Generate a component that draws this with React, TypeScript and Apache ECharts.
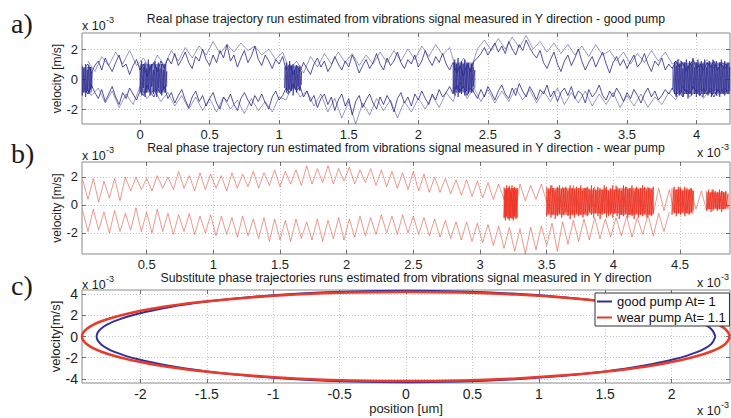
import React, { useEffect, useRef } from 'react';
import * as echarts from 'echarts';

const FONT = '"Liberation Sans", Arial, Helvetica, sans-serif';

// ---------------- panel a (good pump) ----------------
const aX = [
  -0.40, -0.35, -0.30, -0.25, -0.20, -0.15, -0.10, -0.05, 0.00, 0.05,
  0.10, 0.15, 0.20, 0.25, 0.30, 0.35, 0.40, 0.45, 0.50, 0.55,
  0.60, 0.65, 0.70, 0.75, 0.80, 0.85, 0.90, 0.95, 1.00, 1.05,
  1.10, 1.15, 1.20, 1.25, 1.30, 1.35, 1.40, 1.45, 1.50, 1.55,
  1.60, 1.65, 1.70, 1.75, 1.80, 1.85, 1.90, 1.95, 2.00, 2.05,
  2.10, 2.15, 2.20, 2.25, 2.30, 2.35, 2.40, 2.45, 2.50, 2.55,
  2.60, 2.65, 2.70, 2.75, 2.80, 2.85, 2.90, 2.95, 3.00, 3.05,
  3.10, 3.15, 3.20, 3.25, 3.30, 3.35, 3.40, 3.45, 3.50, 3.55,
  3.60, 3.65, 3.70, 3.75, 3.80, 3.85, 3.90, 3.95, 4.00, 4.05,
  4.10, 4.15, 4.20,
];
const aX2 = [
  -0.375, -0.325, -0.275, -0.225, -0.175, -0.125, -0.075, -0.025, 0.025, 0.075,
  0.125, 0.175, 0.225, 0.275, 0.325, 0.375, 0.425, 0.475, 0.525, 0.575,
  0.625, 0.675, 0.725, 0.775, 0.825, 0.875, 0.925, 0.975, 1.025, 1.075,
  1.125, 1.175, 1.225, 1.275, 1.325, 1.375, 1.425, 1.475, 1.525, 1.575,
  1.625, 1.675, 1.725, 1.775, 1.825, 1.875, 1.925, 1.975, 2.025, 2.075,
  2.125, 2.175, 2.225, 2.275, 2.325, 2.375, 2.425, 2.475, 2.525, 2.575,
  2.625, 2.675, 2.725, 2.775, 2.825, 2.875, 2.925, 2.975, 3.025, 3.075,
  3.125, 3.175, 3.225, 3.275, 3.325, 3.375, 3.425, 3.475, 3.525, 3.575,
  3.625, 3.675, 3.725, 3.775, 3.825, 3.875, 3.925, 3.975, 4.025, 4.075,
  4.125, 4.175, 4.225,
];
// fine sample positions: both position lists together
const aXf = [...aX, ...aX2].sort((p, q) => p - q);
// inner (dark) traces, one value per fine sample position
const aUpF = [
  0.7, 1.0, 0.4, 0.9, 1.2, 0.6, 1.4, 0.9, 0.5, 1.1,
  1.6, 0.8, 1.0, 0.3, 0.9, 1.3, 0.6, 1.0, 0.2, 0.8,
  1.1, 0.5, 1.2, 0.7, 1.4, 1.0, 1.7, 0.9, 1.3, 1.8,
  1.1, 0.7, 1.5, 1.2, 2.0, 1.3, 0.9, 1.6, 1.1, 1.9,
  1.4, 2.3, 1.2, 1.6, 0.8, 1.4, 1.9, 1.1, 1.5, 2.2,
  1.3, 0.9, 1.6, 1.2, 0.7, 1.3, 1.0, 1.5, 0.6, 1.0,
  0.3, 0.9, 0.5, 1.1, 0.7, 0.3, 1.0, 1.4, 0.8, 1.2,
  0.5, 0.9, 1.5, 1.0, 0.6, 1.2, 0.8, 1.6, 1.1, 0.4,
  0.9, 1.3, 0.7, 1.1, 1.7, 1.0, 0.6, 1.4, 0.9, 1.2,
  1.8, 1.1, 0.7, 1.3, 1.0, 1.6, 0.8, 1.2, 1.9, 1.3,
  0.9, 1.5, 1.1, 1.7, 1.0, 0.6, 1.1, 0.4, 0.9, 0.2,
  1.0, 0.5, 1.2, 1.4, 1.7, 2.1, 1.6, 2.0, 2.4, 1.8,
  2.2, 1.7, 2.5, 2.0, 1.6, 2.3, 1.9, 2.6, 2.1, 1.7,
  1.4, 1.9, 1.1, 0.7, 1.3, 1.8, 1.0, 0.5, 1.2, 1.6,
  0.9, 1.4, 2.0, 1.2, 0.6, 1.1, 1.5, 0.8, 1.3, 1.8,
  1.0, 0.4, 1.1, 1.5, 0.9, 1.3, 0.7, 1.2, 1.6, 0.8,
  1.1, 1.7, 1.0, 0.5, 1.2, 0.9, 1.4, 0.6, 1.0, 0.7,
  1.2, 0.8, 1.1, 0.5, 0.9, 1.3, 0.7, 1.0, 0.6, 1.1,
  0.8, 1.2, 0.6, 1.0, 0.7, 0.9,
];
const aLoF = [
  -0.6, -1.0, -0.4, -0.9, -1.3, -0.7, -1.5, -1.0, -0.5, -1.2,
  -1.7, -0.9, -1.3, -0.6, -1.0, -1.4, -0.8, -1.1, -0.4, -0.9,
  -1.2, -0.6, -1.0, -0.5, -1.3, -0.9, -1.6, -1.1, -0.7, -1.4,
  -1.9, -1.2, -0.8, -1.5, -1.1, -1.8, -1.3, -0.9, -1.6, -2.0,
  -1.2, -1.5, -1.0, -1.7, -2.1, -1.3, -0.9, -1.4, -1.8, -1.1,
  -1.5, -1.0, -1.6, -2.0, -1.2, -0.8, -1.4, -1.1, -0.6, -0.9,
  -0.4, -0.8, -0.5, -1.2, -0.8, -1.5, -1.1, -1.9, -1.3, -1.0,
  -1.7, -1.2, -2.1, -1.4, -1.0, -1.8, -1.3, -2.4, -1.5, -1.1,
  -1.9, -1.4, -1.0, -1.6, -2.0, -1.2, -1.7, -1.1, -1.5, -2.2,
  -1.3, -0.9, -1.6, -1.2, -1.8, -1.0, -1.4, -0.8, -1.3, -1.7,
  -1.0, -1.4, -0.7, -1.2, -0.9, -0.5, -1.0, -0.4, -0.8, -0.5,
  -1.1, -0.6, -0.9, -1.3, -0.7, -1.2, -0.5, -0.9, -1.4, -0.8,
  -0.4, -1.0, -1.3, -0.6, -1.1, -0.3, -0.8, -1.2, -0.5, -0.9,
  -1.4, -0.7, -1.0, -0.4, -1.2, -0.8, -1.5, -0.9, -0.6, -1.1,
  -0.5, -1.3, -0.8, -1.0, -1.6, -0.7, -1.2, -0.9, -0.4, -1.1,
  -1.4, -0.8, -1.2, -0.6, -1.0, -1.5, -0.9, -1.3, -0.7, -1.1,
  -1.6, -1.0, -0.6, -1.2, -0.8, -1.4, -1.1, -0.7, -1.0, -0.6,
  -1.1, -0.8, -1.2, -0.7, -1.0, -0.5, -0.9, -1.1, -0.6, -1.0,
  -0.8, -1.2, -0.7, -0.9, -0.6, -0.8,
];
// outer (light) traces, one value per coarse sample position
const aUp2 = [
  1.2, 0.5, 1.5, 0.9, 1.8, 1.0, 1.9, 0.9, 1.4, 0.6,
  1.6, 0.9, 1.9, 1.2, 2.1, 1.4, 2.2, 1.6, 2.5, 1.7,
  2.3, 1.8, 2.4, 1.9, 2.2, 1.6, 2.0, 1.3, 1.8, 0.6,
  1.2, 0.4, 1.5, 0.8, 1.7, 1.0, 1.8, 1.1, 1.7, 0.9,
  1.6, 1.0, 1.8, 1.1, 1.9, 1.2, 2.0, 1.3, 2.2, 1.5,
  2.3, 1.6, 2.1, 0.5, 1.4, 0.6, 2.0, 2.6, 1.9, 2.7,
  2.0, 2.8, 2.1, 2.9, 2.0, 2.5, 1.8, 2.4, 1.7, 2.3,
  1.6, 2.2, 1.5, 2.3, 1.6, 1.9, 1.2, 1.8, 1.0, 1.7,
  1.1, 1.9, 1.2, 1.8, 1.0, 1.3, 0.7, 1.2, 0.8, 1.3,
  0.7, 1.1, 0.9,
];
const aLo2 = [
  -0.4, -1.1, -0.6, -1.6, -0.8, -1.9, -1.0, -1.7, -0.5, -1.3,
  -0.7, -1.5, -0.9, -1.8, -1.1, -2.0, -1.2, -2.1, -1.3, -2.2,
  -1.2, -2.0, -1.4, -2.3, -1.3, -2.1, -1.5, -2.2, -1.2, -1.4,
  -0.3, -1.2, -0.8, -1.8, -1.0, -2.2, -1.3, -2.6, -1.5, -3.0,
  -1.6, -2.4, -1.3, -2.1, -1.4, -2.6, -1.5, -2.2, -1.3, -2.0,
  -1.1, -1.9, -0.9, -1.5, -0.2, -1.3, -0.6, -1.5, -0.7, -1.6,
  -0.8, -1.5, -0.6, -1.4, -0.7, -1.6, -0.8, -1.5, -0.6, -1.7,
  -0.9, -1.6, -0.8, -1.8, -1.0, -1.7, -0.9, -1.9, -1.1, -1.8,
  -1.0, -1.9, -1.2, -1.7, -0.9, -1.4, -0.5, -1.2, -0.7, -1.3,
  -0.6, -1.1, -0.8,
];
// dense oscillation blocks: [x, top, bottom]
const aDense = [
  [[-0.415, 0.9, -1.1], [-0.403, 0.7, -0.9], [-0.391, 1.0, -1.2], [-0.379, 0.6, -0.8], [-0.367, 0.9, -1.0], [-0.355, 0.8, -0.7], [-0.345, 0.5, -0.6]],
  [[0.000, 0.9, -0.8], [0.012, 1.2, -1.1], [0.024, 0.8, -0.6], [0.036, 1.1, -1.2], [0.048, 0.7, -0.9], [0.060, 1.3, -0.7], [0.072, 0.9, -1.1], [0.084, 1.0, -0.5], [0.096, 0.6, -1.0], [0.108, 1.2, -0.8], [0.120, 0.8, -1.2], [0.132, 1.1, -0.6], [0.144, 0.7, -0.9], [0.156, 1.0, -1.1], [0.168, 0.6, -0.7], [0.180, 0.9, -0.9], [0.192, 0.5, -0.5]],
  [[1.040, 0.8, -0.6], [1.052, 1.1, -0.9], [1.064, 0.7, -1.0], [1.076, 1.2, -0.7], [1.088, 0.9, -0.8], [1.100, 1.0, -1.1], [1.112, 0.6, -0.6], [1.124, 0.9, -0.9], [1.136, 0.7, -0.5], [1.148, 0.8, -0.8], [1.160, 0.5, -0.4]],
  [[2.250, 0.9, -0.9], [2.262, 1.3, -1.1], [2.274, 1.0, -0.7], [2.286, 1.4, -1.2], [2.298, 0.8, -0.9], [2.310, 1.2, -1.0], [2.322, 1.0, -0.6], [2.334, 1.3, -1.1], [2.346, 0.9, -0.8], [2.358, 1.1, -1.0], [2.370, 0.7, -0.7], [2.382, 1.0, -0.9], [2.394, 0.8, -0.5], [2.406, 0.6, -0.6]],
  [[3.830, 0.8, -0.7], [3.842, 1.1, -1.0], [3.854, 0.9, -1.2], [3.866, 1.3, -0.8], [3.878, 1.0, -1.1], [3.890, 1.2, -0.9], [3.902, 0.7, -1.2], [3.914, 1.1, -0.8], [3.926, 1.3, -1.0], [3.938, 0.9, -1.3], [3.950, 1.2, -0.9], [3.962, 1.0, -1.1], [3.974, 1.4, -0.7], [3.986, 0.8, -1.0], [3.998, 1.1, -1.2], [4.010, 1.3, -0.9], [4.022, 0.9, -1.1], [4.034, 1.2, -0.8], [4.046, 1.0, -1.2], [4.058, 1.3, -1.0], [4.070, 0.8, -0.8], [4.082, 1.1, -1.1], [4.094, 1.2, -0.9], [4.106, 0.9, -1.2], [4.118, 1.3, -1.0], [4.130, 1.0, -0.8], [4.142, 1.2, -1.1], [4.154, 0.8, -0.9], [4.166, 1.1, -1.2], [4.178, 1.3, -0.8], [4.190, 0.9, -1.0], [4.202, 1.2, -1.1], [4.214, 1.0, -0.9], [4.226, 1.1, -1.0], [4.238, 0.8, -0.8]],
];
// shaded dense regions: [x0, x1, y0, y1]
const aDenseAreas = [
  [-0.417, -0.345, -0.9, 0.8],
  [0.0, 0.19, -0.9, 1.0],
  [1.045, 1.155, -0.7, 0.9],
  [2.25, 2.40, -0.9, 1.1],
  [3.84, 4.24, -1.0, 1.1],
];
const aXTicks = [0, 0.5, 1, 1.5, 2, 2.5, 3, 3.5, 4];
const aYTicks = [-2, 0, 2];

// ---------------- panel b (wear pump) ----------------
const bX = [
  0.02, 0.06, 0.10, 0.14, 0.18, 0.22, 0.26, 0.30, 0.34, 0.38,
  0.42, 0.46, 0.50, 0.54, 0.58, 0.62, 0.66, 0.70, 0.74, 0.78,
  0.82, 0.86, 0.90, 0.94, 0.98, 1.02, 1.06, 1.10, 1.14, 1.18,
  1.22, 1.26, 1.30, 1.34, 1.38, 1.42, 1.46, 1.50, 1.54, 1.58,
  1.62, 1.66, 1.70, 1.74, 1.78, 1.82, 1.86, 1.90, 1.94, 1.98,
  2.02, 2.06, 2.10, 2.14, 2.18, 2.22, 2.26, 2.30, 2.34, 2.38,
  2.42, 2.46, 2.50, 2.54, 2.58, 2.62, 2.66, 2.70, 2.74, 2.78,
  2.82, 2.86, 2.90, 2.94, 2.98, 3.02, 3.06, 3.10, 3.14, 3.18,
  3.22, 3.26, 3.30, 3.34, 3.38, 3.42, 3.46, 3.50, 3.54, 3.58,
  3.62, 3.66, 3.70, 3.74, 3.78, 3.82, 3.86, 3.90, 3.94, 3.98,
  4.02, 4.06, 4.10, 4.14, 4.18, 4.22, 4.26, 4.30, 4.34, 4.38,
  4.42, 4.46, 4.50, 4.54, 4.58, 4.62, 4.66, 4.70, 4.74, 4.78,
  4.82, 4.86,
];
const bUp = [
  1.8, 0.4, 1.9, 0.2, 1.7, 0.5, 1.9, 0.3, 2.0, 1.0,
  2.0, 1.1, 1.9, 1.0, 2.1, 1.2, 2.0, 1.1, 2.4, 1.2,
  2.1, 1.0, 2.3, 1.1, 2.2, 1.2, 2.1, 1.0, 2.3, 1.2,
  2.2, 1.3, 2.4, 1.2, 2.3, 1.4, 2.5, 1.3, 2.4, 1.5,
  2.5, 1.4, 2.8, 1.5, 2.6, 1.6, 2.8, 1.5, 2.6, 1.7,
  2.7, 1.5, 2.5, 1.6, 2.6, 1.4, 2.5, 1.3, 2.4, 1.2,
  2.3, 1.1, 2.4, 1.0, 2.2, 0.9, 2.0, 0.9, 1.9, 0.8,
  1.8, 0.7, 1.8, 0.6, 1.7, 0.5, 1.6, 0.4, 1.5, 0.4,
  1.4, -0.6, 1.5, 0.3, 1.4, 0.4, 1.5, 0.2, 1.4, -0.7,
  1.3, -0.5, 1.4, -0.6, 1.2, -0.4, 1.3, -0.6, 1.2, -0.5,
  1.4, -0.7, 1.3, -0.6, 1.2, -0.5, 1.3, -0.6, 1.2, -0.4,
  1.1, -0.6, 1.3, -0.5, 1.2, -0.3, 1.0, -0.4, 1.1, -0.3,
  1.0, -0.2,
];
const bLo = [
  -0.4, -1.9, -0.3, -1.8, -0.5, -2.0, -0.4, -1.9, -0.6, -1.8,
  -0.2, -1.9, -0.5, -2.0, -0.3, -1.9, -0.6, -2.1, -0.7, -1.9,
  -0.6, -2.1, -0.8, -2.0, -0.7, -2.2, -0.8, -2.1, -0.9, -2.3,
  -0.8, -2.2, -1.0, -2.4, -0.9, -2.6, -1.0, -2.5, -1.1, -2.6,
  -1.0, -2.4, -1.2, -2.5, -1.0, -2.6, -1.1, -2.4, -0.9, -2.5,
  -1.0, -2.3, -0.8, -2.2, -0.9, -2.1, -0.7, -2.0, -0.8, -2.1,
  -0.7, -2.0, -0.8, -2.1, -0.9, -2.2, -1.0, -2.3, -1.1, -2.4,
  -1.2, -2.5, -1.2, -2.6, -1.3, -2.7, -1.4, -2.9, -1.5, -3.1,
  -1.6, -3.3, -1.7, -3.5, -1.6, -3.2, -1.5, -2.9, -1.3, -3.3,
  -1.2, -2.8, -1.1, -2.6, -1.0, -2.5, -0.9, -2.4, -1.0, -2.3,
  -0.9, -2.2, -0.8, -2.3, -0.9, -2.1, -0.7, -2.2, -0.6, -1.9,
  -0.5, null, null, null, null, null, null, null, null, null,
  null, null,
];
const bDense = [
  [[3.180, 1.3, -0.9], [3.190, 1.1, -1.1], [3.200, 1.4, -0.8], [3.210, 1.2, -1.0], [3.220, 1.3, -1.1], [3.230, 1.0, -0.9], [3.240, 1.4, -1.0], [3.250, 1.2, -1.1], [3.260, 1.3, -0.8], [3.270, 1.1, -1.0], [3.280, 1.2, -0.9]],
  [[3.500, 1.3, -0.8], [3.516, 1.1, -0.6], [3.532, 1.4, -0.9], [3.548, 1.2, -0.7], [3.564, 1.0, -1.0], [3.580, 1.3, -0.8], [3.596, 1.4, -0.6], [3.612, 1.1, -0.9], [3.628, 1.2, -0.7], [3.644, 1.3, -0.5],
   [3.660, 1.0, -0.8], [3.676, 1.4, -1.0], [3.692, 1.2, -0.7], [3.708, 1.1, -0.9], [3.724, 1.3, -0.6], [3.740, 1.2, -0.8], [3.756, 1.4, -0.7], [3.772, 1.0, -0.9], [3.788, 1.2, -0.6], [3.804, 1.3, -0.8],
   [3.820, 1.1, -0.5], [3.836, 1.4, -0.7], [3.852, 1.2, -0.9], [3.868, 1.0, -0.6], [3.884, 1.3, -0.8], [3.900, 1.2, -1.0], [3.916, 1.1, -0.7], [3.932, 1.4, -0.6], [3.948, 1.3, -0.9], [3.964, 1.0, -0.8],
   [3.980, 1.2, -0.7], [3.996, 1.4, -0.9], [4.012, 1.1, -0.6], [4.028, 1.3, -0.8], [4.044, 1.2, -1.0], [4.060, 1.0, -0.7], [4.076, 1.4, -0.8], [4.092, 1.3, -0.6], [4.108, 1.1, -0.9], [4.124, 1.2, -0.7],
   [4.140, 1.4, -0.8], [4.156, 1.0, -1.0], [4.172, 1.3, -0.6], [4.188, 1.1, -0.9], [4.204, 1.2, -0.7], [4.220, 1.4, -0.8], [4.236, 1.3, -0.6], [4.252, 1.0, -0.9], [4.268, 1.2, -0.7], [4.284, 1.1, -0.8],
   [4.300, 1.3, -0.6]],
  [[4.440, 1.2, -0.7], [4.456, 1.3, -0.5], [4.472, 1.1, -0.8], [4.488, 1.3, -0.6], [4.504, 1.2, -0.7], [4.520, 1.0, -0.5], [4.536, 1.3, -0.8], [4.552, 1.2, -0.6], [4.568, 1.1, -0.7], [4.584, 1.2, -0.5], [4.600, 1.0, -0.4]],
  [[4.700, 1.0, -0.4], [4.716, 1.1, -0.3], [4.732, 0.9, -0.5], [4.748, 1.1, -0.4], [4.764, 1.0, -0.2], [4.780, 0.9, -0.4], [4.796, 1.1, -0.3], [4.812, 1.0, -0.5], [4.828, 0.9, -0.3], [4.844, 1.0, -0.2], [4.860, 0.8, -0.3]],
];
const bDenseAreas = [
  [3.18, 3.28, -0.9, 1.2],
  [3.50, 3.82, -0.7, 1.2],
  [3.82, 4.05, -0.6, 1.1],
  [4.05, 4.30, -0.7, 1.2],
  [4.45, 4.60, -0.6, 1.1],
  [4.70, 4.85, -0.3, 0.9],
];
const bXTicks = [0.5, 1, 1.5, 2, 2.5, 3, 3.5, 4, 4.5];
const bYTicks = [-2, 0, 2];

// ---------------- panel c (substitute trajectories) ----------------
const cGood = [
  [2.33, 0], [2.295, 0.748], [2.19, 1.471], [2.018, 2.15], [1.785, 2.765], [1.498, 3.294], [1.165, 3.724], [0.797, 4.042], [0.405, 4.236], [0, 4.3],
  [-0.405, 4.236], [-0.797, 4.042], [-1.165, 3.724], [-1.498, 3.294], [-1.785, 2.765], [-2.018, 2.15], [-2.19, 1.471], [-2.295, 0.748], [-2.33, 0],
  [-2.295, -0.748], [-2.19, -1.471], [-2.018, -2.15], [-1.785, -2.765], [-1.498, -3.294], [-1.165, -3.724], [-0.797, -4.042], [-0.405, -4.236], [0, -4.3],
  [0.405, -4.236], [0.797, -4.042], [1.165, -3.724], [1.498, -3.294], [1.785, -2.765], [2.018, -2.15], [2.19, -1.471], [2.295, -0.748], [2.33, 0],
];
const cWear = [
  [2.44, 0], [2.403, 0.731], [2.294, 1.436], [2.113, 2.1], [1.869, 2.701], [1.569, 3.217], [1.22, 3.637], [0.834, 3.948], [0.424, 4.137], [0, 4.2],
  [-0.424, 4.137], [-0.834, 3.948], [-1.22, 3.637], [-1.569, 3.217], [-1.869, 2.701], [-2.113, 2.1], [-2.294, 1.436], [-2.403, 0.731], [-2.44, 0],
  [-2.403, -0.731], [-2.294, -1.436], [-2.113, -2.1], [-1.869, -2.701], [-1.569, -3.217], [-1.22, -3.637], [-0.834, -3.948], [-0.424, -4.137], [0, -4.2],
  [0.424, -4.137], [0.834, -3.948], [1.22, -3.637], [1.569, -3.217], [1.869, -2.701], [2.113, -2.1], [2.294, -1.436], [2.403, -0.731], [2.44, 0],
];
const cXTicks = [-2, -1.5, -1, -0.5, 0, 0.5, 1, 1.5, 2];
const cYTicks = [-4, -2, 0, 2, 4];
const cNames = ['good pump At= 1', 'wear pump At= 1.1'];

// ---------------- helpers ----------------
const pairs = (xs: number[], ys: (number | null)[]) =>
  xs.map((x, i) => [x, ys[i]]).filter((p) => p[1] !== null && p[1] !== undefined);
const zig = (tr: number[][]) => tr.flatMap(([x, t, b]) => [[x, t], [x, b]]);
const areas = (list: number[][]) =>
  list.map(([x0, x1, y0, y1]) => [{ coord: [x0, y0] }, { coord: [x1, y1] }]);

const TICK_COLOR = '#6e6e6e';
const GRID_LINE = { color: '#c4c4c4', type: [1, 2] as any, width: 1 };

function xAxes(g: number, min: number, max: number, ticks: number[], fontSize: number, extra: any = {}) {
  return [
    {
      type: 'value', gridIndex: g, min, max, position: 'bottom',
      axisLine: { show: false, onZero: false },
      axisTick: { show: true, inside: true, length: 4, customValues: ticks, lineStyle: { color: TICK_COLOR } },
      axisLabel: { show: true, customValues: ticks, margin: 4, fontSize, color: '#1e1e1e', fontFamily: FONT },
      splitLine: { show: true, lineStyle: GRID_LINE },
      nameMoveOverlap: false,
      ...extra,
    },
    {
      type: 'value', gridIndex: g, min, max, position: 'top',
      axisLine: { show: false, onZero: false },
      axisTick: { show: true, inside: true, length: 4, customValues: ticks, lineStyle: { color: TICK_COLOR } },
      axisLabel: { show: false, customValues: ticks },
      splitLine: { show: false },
    },
  ];
}
function yAxes(g: number, min: number, max: number, ticks: number[], fontSize: number, name: string, nameSize: number, nameGap: number) {
  return [
    {
      type: 'value', gridIndex: g, min, max, position: 'left',
      axisLine: { show: false, onZero: false },
      axisTick: { show: true, inside: true, length: 4, customValues: ticks, lineStyle: { color: TICK_COLOR } },
      axisLabel: { show: true, customValues: ticks, margin: 4, fontSize, color: '#1e1e1e', fontFamily: FONT },
      splitLine: { show: true, lineStyle: GRID_LINE },
      name, nameLocation: 'middle', nameGap, nameMoveOverlap: false,
      nameTextStyle: { fontSize: nameSize, color: '#1e1e1e', fontFamily: FONT },
    },
    {
      type: 'value', gridIndex: g, min, max, position: 'right',
      axisLine: { show: false, onZero: false },
      axisTick: { show: true, inside: true, length: 4, customValues: ticks, lineStyle: { color: TICK_COLOR } },
      axisLabel: { show: false, customValues: ticks },
      splitLine: { show: false },
    },
  ];
}

function lineSeries(g: number, data: any[], color: string, width: number, opacity: number, extra: any = {}) {
  return {
    type: 'line', xAxisIndex: 2 * g, yAxisIndex: 2 * g, data,
    showSymbol: false, symbol: 'none', silent: true, animation: false,
    lineStyle: { color, width, opacity }, itemStyle: { color },
    ...extra,
  };
}

function text(x: number, y: number, t: string, fontSize: number, align = 'left', family = FONT) {
  return {
    type: 'text', x, y, silent: true,
    style: {
      text: t, fontSize, fontFamily: family, fill: '#1a1a1a',
      textAlign: align, textVerticalAlign: 'middle', align, verticalAlign: 'middle',
    },
  };
}
function expo(x: number, y: number) {
  return [text(x, y, 'x 10', 12.5), text(x + 24, y - 6, '-3', 9)];
}

const NAVY = '#2a2a8e';
const RED = '#e0553f';

export default function App() {
  const ref = useRef<HTMLDivElement>(null);
  useEffect(() => {
    if (!ref.current) return;
    const chart = echarts.init(ref.current, undefined, { renderer: 'svg' });
    const grids = [
      { left: 82, top: 33, width: 648, height: 91 },
      { left: 82, top: 162, width: 648, height: 92 },
      { left: 82, top: 290, width: 648, height: 93 },
    ].map((g) => ({ ...g, show: true, borderColor: '#8a8a8a', borderWidth: 1, backgroundColor: 'transparent', containLabel: false, outerBoundsMode: 'none' }));

    const series: any[] = [];
    // panel a
    series.push(lineSeries(0, pairs(aX2, aUp2), NAVY, 0.8, 0.6, {
      markArea: { silent: true, itemStyle: { color: 'rgba(36,36,140,0.5)' }, data: areas(aDenseAreas) },
    }));
    series.push(lineSeries(0, pairs(aX, aLo2), NAVY, 0.8, 0.6));
    series.push(lineSeries(0, pairs(aXf, aUpF), NAVY, 0.9, 0.9));
    series.push(lineSeries(0, pairs(aXf, aLoF), NAVY, 0.9, 0.9));
    aDense.forEach((blk) => series.push(lineSeries(0, zig(blk), NAVY, 0.8, 0.9)));
    // panel b
    series.push(lineSeries(1, pairs(bX, bUp), RED, 0.7, 0.85, {
      markArea: { silent: true, itemStyle: { color: 'rgba(236,40,24,0.6)' }, data: areas(bDenseAreas) },
    }));
    series.push(lineSeries(1, pairs(bX, bLo), RED, 0.7, 0.85));
    bDense.forEach((blk) => series.push(lineSeries(1, zig(blk), '#ec2a1a', 0.8, 0.9)));
    // panel c
    series.push(lineSeries(2, cGood, '#30309c', 2, 1, { name: cNames[0], smooth: 0.4 }));
    series.push(lineSeries(2, cWear, '#ea3a2a', 2.5, 1, { name: cNames[1], smooth: 0.4 }));

    const option: any = {
      animation: false,
      backgroundColor: '#ffffff',
      grid: grids,
      xAxis: [
        ...xAxes(0, -0.417, 4.24, aXTicks, 13),
        ...xAxes(1, 0.015, 4.875, bXTicks, 13),
        ...xAxes(2, -2.44, 2.44, cXTicks, 14, {
          name: 'position [um]', nameLocation: 'middle', nameGap: 19,
          nameTextStyle: { fontSize: 13, color: '#1e1e1e', fontFamily: FONT },
        }),
      ],
      yAxis: [
        ...yAxes(0, -3.0, 3.07, aYTicks, 13, 'velocity [m/s]', 12, 19),
        ...yAxes(1, -3.5, 3.07, bYTicks, 13, 'velocity [m/s]', 12, 19),
        ...yAxes(2, -4.38, 4.38, cYTicks, 14, 'velocity[m/s]', 13, 20),
      ],
      legend: {
        data: cNames, left: 595, top: 293, orient: 'vertical',
        icon: 'rect', itemWidth: 15, itemHeight: 2, itemGap: 3,
        padding: [2, 3, 2, 2], borderColor: '#333', borderWidth: 1, backgroundColor: '#fff',
        textStyle: { fontSize: 13, fontFamily: FONT, color: '#111' },
        selectedMode: false,
      },
      series,
      graphic: [
        text(406, 19, 'Real phase trajectory run estimated from vibrations signal measured in Y direction - good pump', 12.3, 'center'),
        text(406, 148, 'Real phase trajectory run estimated from vibrations signal measured in Y direction - wear pump', 12.3, 'center'),
        text(406, 278, 'Substitute phase trajectories runs estimated from vibrations signal measured in Y direction', 12.3, 'center'),
        text(11, 23, 'a)', 28, 'left', '"Liberation Serif", "Times New Roman", serif'),
        text(11, 153, 'b)', 28, 'left', '"Liberation Serif", "Times New Roman", serif'),
        text(11, 285, 'c)', 28, 'left', '"Liberation Serif", "Times New Roman", serif'),
        ...expo(82, 26),
        ...expo(82, 156),
        ...expo(82, 285),
        ...expo(697, 153),
        ...expo(697, 283),
        ...expo(697, 411),
      ],
    };
    chart.setOption(option);
    return () => chart.dispose();
  }, []);
  return (
    <div
      ref={ref}
      style={{ position: 'fixed', left: 0, top: 0, width: 731, height: 418, background: '#fff' }}
    />
  );
}
